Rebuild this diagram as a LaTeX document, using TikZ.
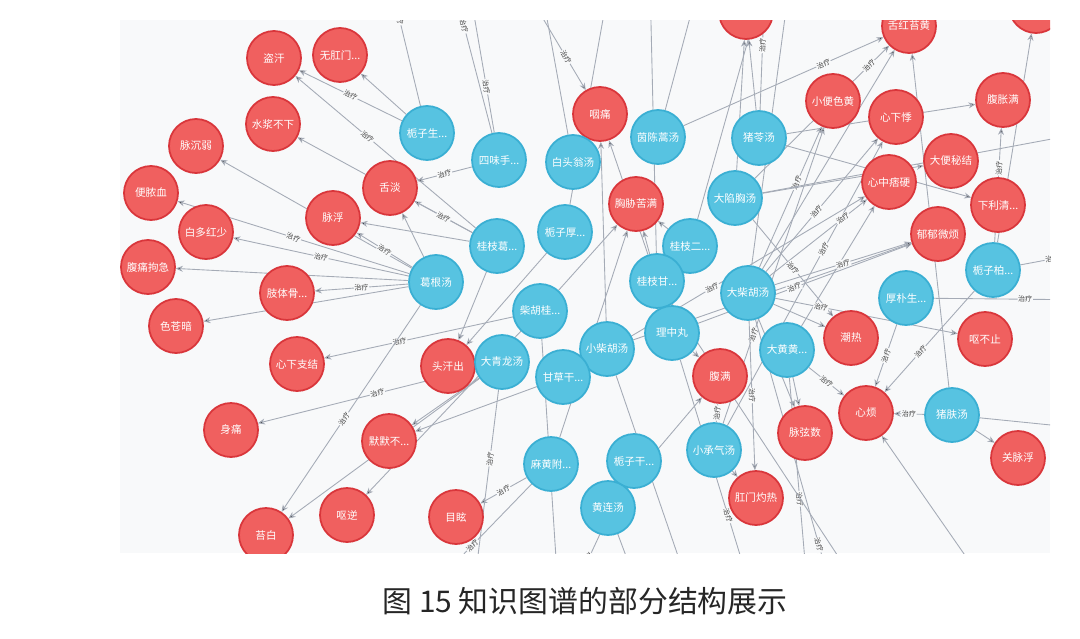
\documentclass[tikz,border=0pt]{standalone}
\usepackage{fontspec}
\setmainfont{Noto Sans CJK SC}
\usepackage{xcolor}
\usetikzlibrary{arrows.meta}
\definecolor{symfill}{HTML}{F0605F}
\definecolor{symdraw}{HTML}{D9363B}
\definecolor{fmlfill}{HTML}{57C3E1}
\definecolor{fmldraw}{HTML}{3AAFD3}
\definecolor{relgray}{HTML}{A5ABB6}
\definecolor{canvas}{HTML}{F8F9FA}
\pgfdeclarelayer{bglayer}
\pgfdeclarelayer{edgelayer}
\pgfsetlayers{bglayer,edgelayer,main}
\tikzset{
    symnode/.style = {circle, draw=symdraw, fill=symfill, line width=1pt, text=white, align=center, inner sep=0pt, minimum size=1.08cm, font=\fontsize{6}{7}\selectfont},
    fmlnode/.style = {circle, draw=fmldraw, fill=fmlfill, line width=1pt, text=white, align=center, inner sep=0pt, minimum size=1.08cm, font=\fontsize{6}{7}\selectfont},
}

\begin{document}
\begin{tikzpicture}[
	x=0.02cm, y=-0.02cm,
	rel/.style = {-{Stealth[length=4pt,width=3.4pt]}, draw=relgray, line width=0.5pt},
	lbl/.style = {sloped, fill=canvas, inner sep=0.4pt, text=black!75, font=\fontsize{4}{4}\selectfont}
]
\useasboundingbox (0,0) rectangle (1080,639);
\begin{pgfonlayer}{bglayer}
\fill[canvas] (120,20) rectangle (1050,553);
\end{pgfonlayer}
\begin{scope}
\clip (120,20) rectangle (1050,553);
% symptoms
\node[symnode] at (274,58) (r1) {盗汗};
\node[symnode] at (340,55) (r2) {无肛门...};
\node[symnode] at (273,124) (r3) {水浆不下};
\node[symnode] at (196,146) (r4) {脉沉弱};
\node[symnode] at (151,193) (r5) {便脓血};
\node[symnode] at (206,232) (r6) {白多红少};
\node[symnode] at (148,267) (r7) {腹痛拘急};
\node[symnode] at (390,188) (r8) {舌淡};
\node[symnode] at (333,218) (r9) {脉浮};
\node[symnode] at (287,293) (r10) {肢体骨...};
\node[symnode] at (176,326) (r11) {色苍暗};
\node[symnode] at (297,364) (r12) {心下支结};
\node[symnode] at (231,430) (r13) {身痛};
\node[symnode] at (448,366) (r14) {头汗出};
\node[symnode] at (389,441) (r15) {默默不...};
\node[symnode] at (347,515) (r16) {呕逆};
\node[symnode] at (266,535) (r17) {苔白};
\node[symnode] at (456,517) (r18) {目眩};
\node[symnode] at (600,114) (r19) {咽痛};
\node[symnode] at (636,204) (r20) {胸胁苦满};
\node[symnode] at (720,376) (r21) {腹满};
\node[symnode] at (756,498) (r22) {肛门灼热};
\node[symnode] at (805,433) (r23) {脉弦数};
\node[symnode] at (866,413) (r24) {心烦};
\node[symnode] at (851,338) (r25) {潮热};
\node[symnode] at (985,339) (r26) {呕不止};
\node[symnode] at (1018,458) (r27) {关脉浮};
\node[symnode] at (998,205) (r28) {下利清...};
\node[symnode] at (938,234) (r29) {郁郁微烦};
\node[symnode] at (951,161) (r30) {大便秘结};
\node[symnode] at (889,182) (r31) {心中痞硬};
\node[symnode] at (896,117) (r32) {心下悸};
\node[symnode] at (833,101) (r33) {小便色黄};
\node[symnode] at (1003,100) (r34) {腹胀满};
\node[symnode] at (909,26) (r35) {舌红苔黄};
\node[symnode] at (746,12) (r36) {};
\node[symnode] at (1036,6) (r37) {};
% formulas
\node[fmlnode] at (427,133) (b1) {栀子生...};
\node[fmlnode] at (499,160) (b2) {四味手...};
\node[fmlnode] at (573,162) (b3) {白头翁汤};
\node[fmlnode] at (658,137) (b4) {茵陈蒿汤};
\node[fmlnode] at (759,138) (b5) {猪苓汤};
\node[fmlnode] at (735,198) (b6) {大陷胸汤};
\node[fmlnode] at (565,232) (b7) {栀子厚...};
\node[fmlnode] at (497,246) (b8) {桂枝葛...};
\node[fmlnode] at (690,246) (b9) {桂枝二...};
\node[fmlnode] at (657,281) (b10) {桂枝甘...};
\node[fmlnode] at (436,282) (b11) {葛根汤};
\node[fmlnode] at (748,293) (b12) {大柴胡汤};
\node[fmlnode] at (540,311) (b13) {柴胡桂...};
\node[fmlnode] at (607,349) (b14) {小柴胡汤};
\node[fmlnode] at (672,333) (b15) {理中丸};
\node[fmlnode] at (502,362) (b16) {大青龙汤};
\node[fmlnode] at (563,377) (b17) {甘草干...};
\node[fmlnode] at (787,350) (b18) {大黄黄...};
\node[fmlnode] at (906,298) (b19) {厚朴生...};
\node[fmlnode] at (993,270) (b20) {栀子柏...};
\node[fmlnode] at (952,415) (b21) {猪肤汤};
\node[fmlnode] at (551,464) (b22) {麻黄附...};
\node[fmlnode] at (634,461) (b23) {栀子干...};
\node[fmlnode] at (714,450) (b24) {小承气汤};
\node[fmlnode] at (608,508) (b25) {黄连汤};
% free ends outside the frame
\coordinate (t1) at (390,-20);
\coordinate (t2) at (452,-20);
\coordinate (t3) at (468,-20);
\coordinate (t4) at (540,-20);
\coordinate (t5) at (610,-20);
\coordinate (t6) at (650,-20);
\coordinate (t7) at (700,-20);
\coordinate (t8) at (765,-20);
\coordinate (t9) at (790,-20);
\coordinate (s1) at (520,-20);
\coordinate (u1) at (400,620);
\coordinate (u2) at (470,620);
\coordinate (u3) at (560,620);
\coordinate (u4) at (650,620);
\coordinate (u5) at (700,620);
\coordinate (u6) at (760,620);
\coordinate (u7) at (810,620);
\coordinate (u8) at (840,620);
\coordinate (u9) at (880,620);
\coordinate (u10) at (1010,620);
\coordinate (e1) at (1100,130);
\coordinate (e2) at (1100,250);
\coordinate (e3) at (1100,300);
\coordinate (e4) at (1100,430);
\end{scope}
%
\begin{pgfonlayer}{edgelayer}
\begin{scope}
\clip (120,20) rectangle (1050,553);
% left part
\draw[rel] (b1) edge node[lbl] {治疗} (r1);
\draw[rel] (b1) edge (r2);
\draw[rel] (b8) edge node[lbl,pos=0.6] {治疗} (r1);
\draw[rel] (b8) edge (r3);
\draw[rel] (b11) edge (r4);
\draw[rel] (b11) edge node[lbl] {治疗} (r5);
\draw[rel] (b11) edge node[lbl] {治疗} (r6);
\draw[rel] (b11) edge (r7);
\draw[rel] (b11) edge (r8);
\draw[rel] (b11) edge node[lbl] {治疗} (r9);
\draw[rel] (b8) edge node[lbl] {治疗} (r8);
\draw[rel] (b2) edge node[lbl] {治疗} (r8);
\draw[rel] (b8) edge (r9);
\draw[rel] (b11) edge node[lbl] {治疗} (r10);
\draw[rel] (b11) edge (r11);
\draw[rel] (b13) edge node[lbl,pos=0.6] {治疗} (r12);
\draw[rel] (b16) edge node[lbl,pos=0.45] {治疗} (r13);
\draw[rel] (b11) edge node[lbl,pos=0.55] {治疗} (r17);
\draw[rel] (b16) edge (r17);
\draw[rel] (b16) edge (r15);
\draw[rel] (b17) edge (r15);
\draw[rel] (b13) edge (r16);
\draw[rel] (b22) edge node[lbl] {治疗} (r18);
\draw[rel] (b8) edge (r14);
\draw[rel] (b7) edge (r14);
% top part
\draw[rel] (b1) edge node[lbl,pos=0.7] {治疗} (t1);
\draw[rel] (b2) edge node[lbl,pos=0.7] {治疗} (t2);
\draw[rel] (b2) edge node[lbl,pos=0.3] {治疗} (t3);
\draw[rel] (b3) edge (t4);
\draw[rel] (b7) edge (t5);
\draw[rel] (b10) edge (t6);
\draw[rel] (b4) edge (t7);
\draw[rel] (b9) edge (t8);
\draw[rel] (b5) edge node[lbl,pos=0.5] {治疗} (t8);
\draw[rel] (b12) edge (t9);
\draw[rel] (s1) edge node[lbl,pos=0.7] {治疗} (r19);
% centre
\draw[rel] (b10) edge (r19);
\draw[rel] (b14) edge (r19);
\draw[rel] (b10) edge (r20);
\draw[rel] (b9) edge (r20);
\draw[rel] (b13) edge (r20);
\draw[rel] (b22) edge (r20);
\draw[rel] (b17) edge node[lbl,pos=0.45] {治疗} (r31);
\draw[rel] (b14) edge (r29);
\draw[rel] (b25) edge (r21);
% right upper part
\draw[rel] (b4) edge node[lbl,pos=0.7] {治疗} (r35);
\draw[rel] (b6) edge node[lbl,pos=0.85] {治疗} (r35);
\draw[rel] (b12) edge (r35);
\draw[rel] (b5) edge (r36);
\draw[rel] (b6) edge (r36);
\draw[rel] (b5) edge (r34);
\draw[rel] (b12) edge node[lbl,pos=0.6] {治疗} (r33);
\draw[rel] (b12) edge node[lbl,pos=0.45] {治疗} (r32);
\draw[rel] (b24) edge node[lbl,pos=0.3] {治疗} (r33);
\draw[rel] (b24) edge node[lbl,pos=0.62] {治疗} (r32);
\draw[rel] (b12) edge node[lbl,pos=0.75] {治疗} (r31);
\draw[rel] (b18) edge (r31);
\draw[rel] (b15) edge node[lbl,pos=0.45] {治疗} (r29);
\draw[rel] (b12) edge node[lbl] {治疗} (r29);
\draw[rel] (b6) edge (r30);
\draw[rel] (b5) edge (r28);
\draw[rel] (b20) edge node[lbl,pos=0.65] {治疗} (r34);
\draw[rel] (b20) edge (r37);
\draw[rel] (b21) edge (r35);
\draw[rel] (b20) edge node[lbl,pos=0.4] {治疗} (e2);
\draw[rel] (b19) edge node[lbl,pos=0.55] {治疗} (e3);
\draw[rel] (b6) edge (e1);
% right middle part
\draw[rel] (b12) edge (r25);
\draw[rel] (b6) edge node[lbl] {治疗} (r25);
\draw[rel] (b12) edge node[lbl,pos=0.25] {治疗} (r26);
\draw[rel] (b20) edge node[lbl,pos=0.6] {治疗} (r24);
\draw[rel] (b19) edge node[lbl] {治疗} (r24);
\draw[rel] (b21) edge node[lbl] {治疗} (r24);
\draw[rel] (b21) edge (r27);
\draw[rel] (b21) edge (e4);
\draw[rel] (b18) edge node[lbl] {治疗} (r24);
\draw[rel] (b18) edge (r23);
\draw[rel] (b12) edge (r23);
\draw[rel] (b12) edge node[lbl,pos=0.5] {治疗} (r22);
\draw[rel] (b24) edge node[lbl] {治疗} (r21);
\draw[rel] (b24) edge (r22);
\draw[rel] (b15) edge (r21);
\draw[rel] (u10) edge (r24);
% bottom part
\draw[rel] (b22) edge node[lbl,pos=0.45] {治疗} (u1);
\draw[rel] (b16) edge node[lbl,pos=0.3] {治疗} (u2);
\draw[rel] (b13) edge (u3);
\draw[rel] (b23) edge node[lbl,pos=0.55] {治疗} (u3);
\draw[rel] (b25) edge (u4);
\draw[rel] (b14) edge node[lbl,pos=0.3] {治疗} (u5);
\draw[rel] (b15) edge node[lbl,pos=0.6] {治疗} (u6);
\draw[rel] (b18) edge node[lbl,pos=0.5] {治疗} (u7);
\draw[rel] (b12) edge node[lbl,pos=0.75] {治疗} (u8);
\draw[rel] (b10) edge (u9);
\end{scope}
\end{pgfonlayer}
%
\node[font=\fontsize{17}{20}\selectfont, text=black!85] at (585,601) (cap) {图 15\ 知识图谱的部分结构展示};
\end{tikzpicture}
\end{document}
